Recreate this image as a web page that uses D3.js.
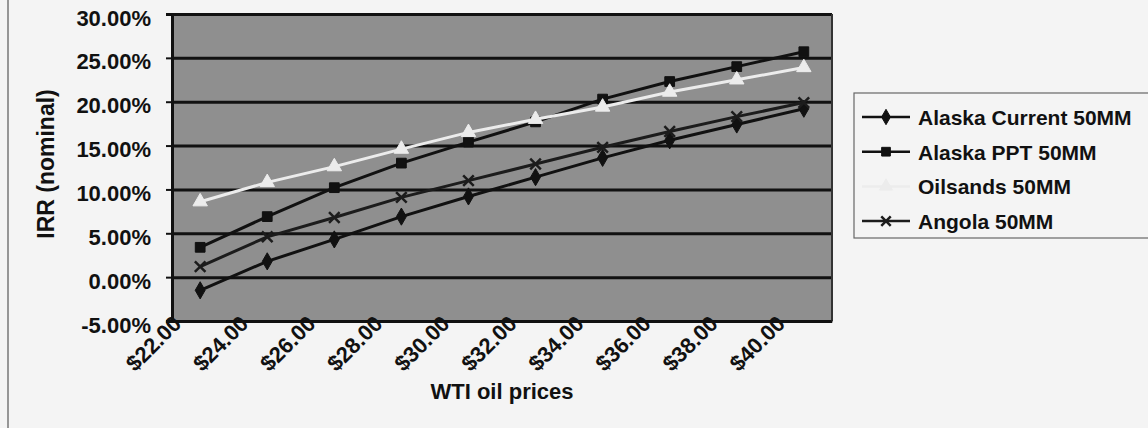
<!DOCTYPE html>
<html>
<head>
<meta charset="utf-8">
<script src="https://cdn.jsdelivr.net/npm/d3@7"></script>
<style>
  html, body { margin: 0; padding: 0; background: #f4f4f4; }
  svg { display: block; font-family: "Liberation Sans", Arial, sans-serif; font-weight: bold; }
</style>
</head>
<body>
<svg id="chart" width="1148" height="428"></svg>
<script>
// WTI price scenarios (category axis)
const prices = ["$22.00", "$24.00", "$26.00", "$28.00", "$30.00",
                "$32.00", "$34.00", "$36.00", "$38.00", "$40.00"];

// IRR (nominal), in percent, per price scenario
const alaskaCurrent = [-1.5, 1.8, 4.3, 6.9, 9.2, 11.4, 13.6, 15.6, 17.4, 19.2];
const alaskaPPT     = [3.4, 6.9, 10.2, 13.0, 15.4, 17.7, 20.3, 22.3, 24.0, 25.7];
const oilsands      = [8.6, 10.8, 12.6, 14.6, 16.5, 18.0, 19.4, 21.1, 22.5, 23.9];
const angola        = [1.2, 4.6, 6.8, 9.1, 11.0, 12.9, 14.8, 16.6, 18.3, 19.9];

const seriesNames = ["Alaska Current 50MM", "Alaska PPT 50MM", "Oilsands 50MM", "Angola 50MM"];
const yTicks = [-5, 0, 5, 10, 15, 20, 25, 30];

const xTitle = "WTI oil prices";
const yTitle = "IRR (nominal)";

const series = [
  { name: seriesNames[0], values: alaskaCurrent, color: "#111", symbol: d3.symbolDiamond, size: 85, markFill: true },
  { name: seriesNames[1], values: alaskaPPT,     color: "#111", symbol: d3.symbolSquare,  size: 95, markFill: true },
  { name: seriesNames[2], values: oilsands,      color: "#ececec", symbol: d3.symbolTriangle, size: 90, markFill: true },
  { name: seriesNames[3], values: angola,        color: "#1c1c1c", symbol: d3.symbolX,    size: 75, markFill: false }
];

const plot = { left: 172, right: 832, top: 14, bottom: 321 };
const pageBg = "#f4f4f4";

const svg = d3.select("#chart");

// outer chart frame edge on the left
svg.append("line")
  .attr("x1", 8).attr("x2", 8).attr("y1", 0).attr("y2", 428)
  .attr("stroke", "#777").attr("stroke-width", 1.5);

const x = d3.scalePoint().domain(prices).range([plot.left, plot.right]).padding(0.42);
const y = d3.scaleLinear().domain([-5, 30]).range([plot.bottom, plot.top]);

// plot area
svg.append("rect")
  .attr("x", plot.left).attr("y", plot.top)
  .attr("width", plot.right - plot.left).attr("height", plot.bottom - plot.top)
  .attr("fill", "#8f8f8f");

// horizontal gridlines
svg.append("g")
  .attr("transform", `translate(${plot.left},0)`)
  .call(d3.axisLeft(y).tickValues(yTicks).tickSize(-(plot.right - plot.left)).tickFormat(""))
  .call(g => g.select(".domain").remove())
  .call(g => g.selectAll(".tick line").attr("stroke", "#111").attr("stroke-width", 3));

// right plot edge
svg.append("line")
  .attr("x1", plot.right).attr("x2", plot.right).attr("y1", plot.top).attr("y2", plot.bottom)
  .attr("stroke", "#333").attr("stroke-width", 2);

// y axis with percentage labels
svg.append("g")
  .attr("transform", `translate(${plot.left},0)`)
  .call(d3.axisLeft(y).tickValues(yTicks).tickSize(6).tickPadding(15)
        .tickFormat(d => d.toFixed(2) + "%"))
  .call(g => g.select(".domain").attr("stroke", "#111").attr("stroke-width", 3))
  .call(g => g.selectAll(".tick line").attr("stroke", "#111").attr("stroke-width", 2))
  .call(g => g.selectAll(".tick text")
      .attr("dy", null).attr("y", 11)
      .attr("font-size", 22).attr("font-weight", "bold").attr("fill", "#111")
      .attr("font-family", "'Liberation Sans', Arial, sans-serif"));

// x axis with rotated price labels
svg.append("g")
  .attr("transform", `translate(0,${plot.bottom})`)
  .call(d3.axisBottom(x).tickSize(0))
  .call(g => g.select(".domain").attr("stroke", "#111").attr("stroke-width", 2))
  .call(g => g.selectAll(".tick text")
      .attr("y", 0).attr("dy", null)
      .attr("text-anchor", "end")
      .attr("transform", "translate(-18,4) rotate(-45)")
      .attr("font-size", 22).attr("font-weight", "bold").attr("fill", "#111")
      .attr("font-family", "'Liberation Sans', Arial, sans-serif"));

// series lines and markers
const line = d3.line()
  .x((d, i) => x(prices[i]))
  .y(d => y(d));

series.forEach(s => {
  svg.append("path")
    .datum(s.values)
    .attr("fill", "none")
    .attr("stroke", s.color)
    .attr("stroke-width", 3)
    .attr("d", line);

  svg.append("g").selectAll("path")
    .data(s.values)
    .join("path")
    .attr("transform", (d, i) => `translate(${x(prices[i])},${y(d)})`)
    .attr("d", d3.symbol(s.symbol, s.size))
    .attr("fill", s.markFill ? s.color : "none")
    .attr("stroke", s.color)
    .attr("stroke-width", s.markFill ? 1 : 2.5);
});

// axis titles
svg.append("text")
  .attr("x", (plot.left + plot.right) / 2).attr("y", 399)
  .attr("text-anchor", "middle")
  .attr("font-size", 22).attr("fill", "#111")
  .text(xTitle);

svg.append("text")
  .attr("transform", "translate(54,164) rotate(-90)")
  .attr("text-anchor", "middle")
  .attr("font-size", 23).attr("fill", "#111")
  .text(yTitle);

// legend
const legend = svg.append("g");
legend.append("rect")
  .attr("x", 854).attr("y", 93).attr("width", 320).attr("height", 145)
  .attr("fill", pageBg).attr("stroke", "#666").attr("stroke-width", 1.2);

series.forEach((s, i) => {
  const cy = 117 + i * 34.7;
  const row = legend.append("g");
  row.append("line")
    .attr("x1", 862).attr("x2", 910).attr("y1", cy).attr("y2", cy)
    .attr("stroke", s.color).attr("stroke-width", 2.5);
  row.append("path")
    .attr("transform", `translate(886,${cy})`)
    .attr("d", d3.symbol(s.symbol, s.size * 0.8))
    .attr("fill", s.markFill ? s.color : "none")
    .attr("stroke", s.color)
    .attr("stroke-width", s.markFill ? 1 : 2.5);
  row.append("text")
    .attr("x", 918).attr("y", cy + 8)
    .attr("font-size", 21).attr("fill", "#111")
    .text(s.name);
});
</script>
</body>
</html>
